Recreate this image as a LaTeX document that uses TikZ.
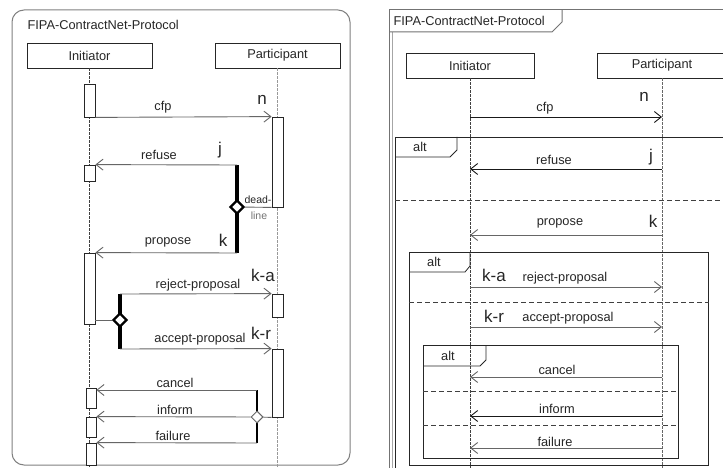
\documentclass[tikz,border=0pt]{standalone}
\usepackage{fontspec}
\setmainfont{Liberation Sans}
\usetikzlibrary{arrows.meta,shapes.geometric}
\begin{document}
\begin{tikzpicture}[x=1pt,y=-1pt,
  every node/.style={font=\fontsize{12.8}{12.8}\selectfont, text=black!85},
  frameL/.style={draw=black!50, line width=1pt},
  frameR/.style={draw=black!55, line width=1pt},
  lbox/.style={draw=black!85, line width=0.8pt, minimum height=25pt, inner sep=0pt},
  life/.style={draw=black!75, line width=0.6pt, dash pattern=on 2.5pt off 1.5pt},
  lifeg/.style={draw=black!40, line width=0.6pt, dash pattern=on 2.5pt off 1.5pt},
  act/.style={draw=black!85, fill=white, line width=0.8pt, minimum width=11pt, inner sep=0pt},
  msg/.style={draw=black!60, line width=0.9pt, -{Straight Barb[length=7pt,width=11pt]}},
  msgd/.style={msg, draw=black!90},
  thinl/.style={draw=black!60, line width=0.9pt},
  bar/.style={line width=3.5pt, draw=black},
  choice/.style={diamond, draw=black, line width=2.2pt, fill=white, minimum width=14pt, minimum height=14pt, inner sep=0pt},
  choicesm/.style={diamond, draw=black!60, line width=1pt, fill=white, minimum width=12pt, minimum height=12pt, inner sep=0pt},
  big/.style={font=\fontsize{17}{17}\selectfont},
  tiny/.style={font=\fontsize{10.5}{10.5}\selectfont},
  sepd/.style={draw=black!75, line width=0.8pt, dash pattern=on 5pt off 3pt},
  altf/.style={draw=black!85, line width=0.8pt, inner sep=0pt},
]
\useasboundingbox (0,0) rectangle (723,468);
\clip (0,0) rectangle (723,468);
\fill[white] (0,0) rectangle (723,468);

% ================= LEFT DIAGRAM =================
\draw[frameL, rounded corners=12pt] (12,10) rectangle (350,465);
\node[anchor=west] (titleL) at (24,25) {FIPA-ContractNet-Protocol};
\node[lbox, minimum width=125pt] (iniL) at (89.5,55.5) {Initiator};
\node[lbox, minimum width=125pt] (parL) at (277.5,55.5) {Participant};
\coordinate (iniLend) at (89.5,468);
\coordinate (parLend) at (277.5,468);
\draw[life] (iniL.south) -- (iniLend);
\draw[lifeg] (parL.south) -- (parLend);

\node[act, minimum height=33pt] (aI1) at (89.5,100.5) {};
\node[act, minimum height=90pt] (aP1) at (277.5,162) {};
\node[act, minimum height=16pt] (aI2) at (89.5,173) {};
\node[act, minimum height=71pt] (aI3) at (89.5,288.5) {};
\node[act, minimum height=23pt] (aP2) at (277.5,305.5) {};
\node[act, minimum height=68pt] (aP3) at (277.5,383) {};
\node[act, minimum width=10pt, minimum height=20pt] (bI4) at (91,398) {};
\node[act, minimum width=10pt, minimum height=20pt] (bI5) at (91,427) {};
\node[act, minimum width=10pt, minimum height=22pt] (bI6) at (91,454) {};

% cfp
\draw[msg] (aI1.south east) -- (aP1.north west);
\node (cfpL) at (163,107) {cfp};
\node[big] (nL) at (262,100) {n};

% refuse / propose with deadline
\coordinate (jA) at (237,165);
\coordinate (kA) at (237,253);
\draw[bar] (jA) -- (kA);
\draw[msg] (jA) -- (aI2.north east);
\draw[msg] (kA) -- (aI3.north east);
\node[choice] (dA) at (237,207) {};
\draw[thinl] (dA) -- (aP1.south west);
\node (refL) at (159,155) {refuse};
\node[big] (jL) at (220,150) {j};
\node[tiny] (deadL) at (258,200) {dead-};
\node[tiny, text=black!55] (lineL) at (259,216) {line};
\node (propL) at (168,242) {propose};
\node[big] (kL) at (223,240) {k};

% reject / accept
\coordinate (kaB) at (120,294);
\coordinate (krB) at (120,349);
\draw[bar] (kaB) -- (krB);
\draw[msg] (kaB) -- (aP2.north west);
\draw[msg] (krB) -- (aP3.north west);
\node[choice] (dB) at (120,320) {};
\draw[thinl] (aI3.east |- dB) -- (dB);
\node (rejL) at (198,285) {reject-proposal};
\node[big] (kaL) at (263,275) {k-a};
\node (accL) at (200,339) {accept-proposal};
\node[big] (krL) at (261,333) {k-r};

% cancel / inform / failure
\coordinate (cC) at (257,390);
\coordinate (fC) at (257,443);
\draw[bar, line width=2.5pt] (cC) -- (fC);
\draw[msg] (cC) -- (bI4.east |- cC);
\draw[msg] (fC) -- (bI6.north east);
\node[choicesm] (dC) at (257,417) {};
\draw[msg] (dC) -- (bI5.north east);
\draw[thinl] (aP3.south west) -- (dC);
\node (canL) at (175,383) {cancel};
\node (infL) at (175,410) {inform};
\node (failL) at (173,436) {failure};

% ================= RIGHT DIAGRAM =================
\draw[frameR] (389,10) -- (730,10);
\draw[frameR] (389,10) -- (389,470);
\draw[frameR, draw=black!35] (392.5,32) -- (392.5,470);
\draw[frameR] (389,32) -- (552,32) -- (562,22) -- (562,10);
\node[anchor=west] (titleR) at (390,21) {FIPA-ContractNet-Protocol};

\node[lbox, minimum width=128pt] (iniR) at (470,65.5) {Initiator};
\node[lbox, minimum width=130pt] (parR) at (662,65.5) {Participant};
\coordinate (iniRend) at (470,470);
\coordinate (parRend) at (662,470);
\draw[life] (iniR.south) -- (iniRend);
\draw[life, draw=black!60] (parR.south) -- (parRend);

% cfp
\draw[msgd] (iniR.south |- 0,117) -- (parR.south |- 0,117);
\node (cfpR) at (545,108) {cfp};
\node[big] (nR) at (644,97) {n};

% alt 1
\node[altf, anchor=north west, minimum width=345pt, minimum height=343pt] (alt1) at (395,137) {};
\draw[altf] (395,157) -- (450,157) -- (457,150) -- (457,137);
\node (altR1) at (420,147) {alt};
\draw[msgd] (parR.south |- 0,169) -- (iniR.south |- 0,169);
\node (refR) at (554,160) {refuse};
\node[big] (jR) at (651,157) {j};
\draw[sepd] (alt1.west |- 0,200) -- (alt1.east |- 0,200);
\draw[msg] (parR.south |- 0,235) -- (iniR.south |- 0,235);
\node (propR) at (560,223) {propose};
\node[big] (kR) at (653,221) {k};

% alt 2
\node[altf, anchor=north west, minimum width=299pt, minimum height=213pt] (alt2) at (409,252) {};
\draw[altf] (409,272) -- (465,272) -- (470,266) -- (470,252);
\node (altR2) at (434,262) {alt};
\node[big] (kaR) at (494,275) {k-a};
\draw[msg] (iniR.south |- 0,287) -- (parR.south |- 0,287);
\node (rejR) at (565,278) {reject-proposal};
\draw[sepd] (alt2.west |- 0,302) -- (alt2.east |- 0,302);
\node[big] (krR) at (494,316) {k-r};
\draw[msg] (iniR.south |- 0,327) -- (parR.south |- 0,327);
\node (accR) at (568,318) {accept-proposal};

% alt 3
\node[altf, anchor=north west, minimum width=255pt, minimum height=113pt] (alt3) at (423,345) {};
\draw[altf] (423,366) -- (480,366) -- (486,360) -- (486,345);
\node (altR3) at (448,356) {alt};
\draw[msg] (parR.south |- 0,377) -- (iniR.south |- 0,377);
\node (canR) at (557,370) {cancel};
\draw[sepd] (alt3.west |- 0,391) -- (alt3.east |- 0,391);
\draw[msgd] (parR.south |- 0,416) -- (iniR.south |- 0,416);
\node (infR) at (557,409) {inform};
\draw[sepd] (alt3.west |- 0,425) -- (alt3.east |- 0,425);
\draw[msg] (parR.south |- 0,448) -- (iniR.south |- 0,448);
\node (failR) at (555,442) {failure};
\end{tikzpicture}
\end{document}
